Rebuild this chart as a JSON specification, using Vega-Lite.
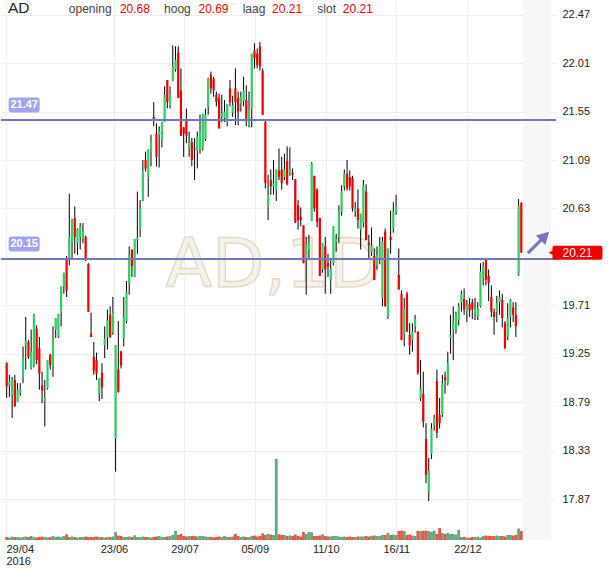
{
"$schema": "https://vega.github.io/schema/vega-lite/v6.json",
"width": 555, "height": 540, "padding": 0,
"autosize": {"type": "pad"},
"background": "white",
"config": {"font": "Liberation Sans", "view": {"stroke": null}},
"datasets": {
"levels": [{"price": 21.47}, {"price": 20.15}],
"ohlc": [
{"i":1,"o":19.16,"h":19.17,"l":18.83,"c":18.94,"v":1200},
{"i":2,"o":18.95,"h":19.05,"l":18.84,"c":18.99,"v":1000},
{"i":3,"o":18.86,"h":19.03,"l":18.64,"c":19.00,"v":1400},
{"i":4,"o":19.00,"h":19.05,"l":18.75,"c":18.75,"v":1200},
{"i":5,"o":18.79,"h":18.97,"l":18.79,"c":18.91,"v":1200},
{"i":6,"o":18.88,"h":18.97,"l":18.85,"c":18.92,"v":1000},
{"i":7,"o":19.03,"h":19.32,"l":18.97,"c":19.21,"v":1200},
{"i":8,"o":19.33,"h":19.60,"l":19.10,"c":19.37,"v":1400},
{"i":9,"o":19.36,"h":19.38,"l":19.20,"c":19.22,"v":1200},
{"i":10,"o":19.11,"h":19.48,"l":19.10,"c":19.27,"v":1600},
{"i":11,"o":19.14,"h":19.63,"l":19.12,"c":19.62,"v":1200},
{"i":12,"o":19.49,"h":19.52,"l":19.15,"c":19.19,"v":1000},
{"i":13,"o":19.30,"h":19.41,"l":18.91,"c":19.06,"v":1200},
{"i":14,"o":18.95,"h":19.08,"l":18.78,"c":18.90,"v":1400},
{"i":15,"o":18.80,"h":19.00,"l":18.56,"c":18.83,"v":1200},
{"i":16,"o":18.92,"h":19.19,"l":18.91,"c":19.19,"v":1000},
{"i":17,"o":19.24,"h":19.25,"l":19.10,"c":19.14,"v":1200},
{"i":18,"o":19.13,"h":19.51,"l":19.03,"c":19.39,"v":1600},
{"i":19,"o":19.48,"h":19.59,"l":19.40,"c":19.59,"v":1200},
{"i":20,"o":19.41,"h":19.63,"l":19.40,"c":19.63,"v":1400},
{"i":21,"o":19.65,"h":19.89,"l":19.51,"c":19.89,"v":1200},
{"i":22,"o":19.89,"h":20.02,"l":19.82,"c":20.02,"v":1600},
{"i":23,"o":20.15,"h":20.18,"l":19.79,"c":19.85,"v":2280},
{"i":24,"o":20.16,"h":20.77,"l":20.09,"c":20.36,"v":1200},
{"i":25,"o":20.31,"h":20.53,"l":20.16,"c":20.52,"v":1400},
{"i":26,"o":20.54,"h":20.65,"l":20.20,"c":20.36,"v":1200},
{"i":27,"o":20.30,"h":20.44,"l":20.19,"c":20.43,"v":1000},
{"i":28,"o":20.36,"h":20.49,"l":20.24,"c":20.46,"v":1200},
{"i":29,"o":20.34,"h":20.49,"l":20.30,"c":20.41,"v":1200},
{"i":30,"o":20.36,"h":20.37,"l":20.13,"c":20.14,"v":1400},
{"i":31,"o":20.10,"h":20.11,"l":19.65,"c":19.65,"v":1200},
{"i":32,"o":19.44,"h":19.64,"l":19.41,"c":19.41,"v":1200},
{"i":33,"o":19.22,"h":19.36,"l":19.05,"c":19.09,"v":1200},
{"i":34,"o":19.19,"h":19.26,"l":19.00,"c":19.06,"v":1400},
{"i":35,"o":18.87,"h":19.02,"l":18.80,"c":19.02,"v":1200},
{"i":36,"o":19.07,"h":19.16,"l":18.82,"c":18.93,"v":1200},
{"i":37,"o":19.33,"h":19.51,"l":19.21,"c":19.39,"v":1000},
{"i":38,"o":19.41,"h":19.67,"l":19.29,"c":19.57,"v":1200},
{"i":39,"o":19.62,"h":19.70,"l":19.40,"c":19.41,"v":1200},
{"i":40,"o":19.45,"h":19.79,"l":19.43,"c":19.64,"v":1400},
{"i":41,"o":18.45,"h":19.33,"l":18.13,"c":19.33,"v":3200},
{"i":42,"o":19.10,"h":19.56,"l":18.88,"c":18.89,"v":1800},
{"i":43,"o":19.27,"h":19.28,"l":19.11,"c":19.14,"v":1600},
{"i":44,"o":19.40,"h":19.79,"l":19.32,"c":19.60,"v":1200},
{"i":45,"o":19.56,"h":19.94,"l":19.54,"c":19.84,"v":1200},
{"i":46,"o":19.92,"h":20.27,"l":19.81,"c":20.19,"v":1400},
{"i":47,"o":20.24,"h":20.24,"l":19.98,"c":20.08,"v":1200},
{"i":48,"o":19.98,"h":20.34,"l":19.98,"c":20.34,"v":1880},
{"i":49,"o":20.33,"h":20.79,"l":20.20,"c":20.35,"v":1200},
{"i":50,"o":20.43,"h":20.71,"l":20.36,"c":20.63,"v":1200},
{"i":51,"o":20.71,"h":21.09,"l":20.70,"c":20.99,"v":1400},
{"i":52,"o":21.09,"h":21.17,"l":20.98,"c":21.01,"v":1200},
{"i":53,"o":20.93,"h":21.19,"l":20.74,"c":21.19,"v":1200},
{"i":54,"o":21.17,"h":21.33,"l":21.03,"c":21.27,"v":1000},
{"i":55,"o":21.50,"h":21.64,"l":21.41,"c":21.48,"v":1200},
{"i":56,"o":21.34,"h":21.44,"l":21.03,"c":21.12,"v":1400},
{"i":57,"o":21.33,"h":21.41,"l":21.02,"c":21.36,"v":1600},
{"i":58,"o":21.28,"h":21.45,"l":21.21,"c":21.45,"v":1200},
{"i":59,"o":21.45,"h":21.79,"l":21.45,"c":21.71,"v":1200},
{"i":60,"o":21.85,"h":21.85,"l":21.58,"c":21.64,"v":1400},
{"i":61,"o":21.61,"h":21.79,"l":21.58,"c":21.71,"v":1600},
{"i":62,"o":21.84,"h":22.18,"l":21.84,"c":21.98,"v":2000},
{"i":63,"o":21.95,"h":22.17,"l":21.93,"c":22.04,"v":3600},
{"i":64,"o":22.11,"h":22.17,"l":21.68,"c":21.68,"v":2000},
{"i":65,"o":21.75,"h":21.96,"l":21.32,"c":21.32,"v":2400},
{"i":66,"o":21.40,"h":21.40,"l":21.12,"c":21.34,"v":1600},
{"i":67,"o":21.47,"h":21.58,"l":21.25,"c":21.32,"v":1400},
{"i":68,"o":21.20,"h":21.36,"l":21.12,"c":21.26,"v":1600},
{"i":69,"o":21.26,"h":21.30,"l":21.03,"c":21.09,"v":1600},
{"i":70,"o":21.20,"h":21.30,"l":20.90,"c":21.19,"v":1600},
{"i":71,"o":21.18,"h":21.36,"l":21.01,"c":21.31,"v":1400},
{"i":72,"o":21.19,"h":21.52,"l":21.15,"c":21.36,"v":1600},
{"i":73,"o":21.20,"h":21.53,"l":21.18,"c":21.53,"v":1600},
{"i":74,"o":21.29,"h":21.58,"l":21.27,"c":21.52,"v":1400},
{"i":75,"o":21.60,"h":21.87,"l":21.52,"c":21.87,"v":1200},
{"i":76,"o":21.90,"h":21.93,"l":21.72,"c":21.77,"v":1200},
{"i":77,"o":21.86,"h":21.88,"l":21.69,"c":21.75,"v":1000},
{"i":78,"o":21.71,"h":21.74,"l":21.60,"c":21.64,"v":1200},
{"i":79,"o":21.68,"h":21.72,"l":21.39,"c":21.39,"v":1400},
{"i":80,"o":21.50,"h":21.71,"l":21.45,"c":21.53,"v":1200},
{"i":81,"o":21.49,"h":21.66,"l":21.45,"c":21.55,"v":1600},
{"i":82,"o":21.45,"h":21.62,"l":21.41,"c":21.62,"v":1200},
{"i":83,"o":21.77,"h":21.85,"l":21.60,"c":21.64,"v":1200},
{"i":84,"o":21.54,"h":21.70,"l":21.50,"c":21.61,"v":1400},
{"i":85,"o":21.77,"h":21.96,"l":21.42,"c":21.64,"v":2400},
{"i":86,"o":21.68,"h":21.74,"l":21.42,"c":21.55,"v":1600},
{"i":87,"o":21.63,"h":21.74,"l":21.55,"c":21.69,"v":1200},
{"i":88,"o":21.65,"h":21.88,"l":21.60,"c":21.75,"v":1400},
{"i":89,"o":21.66,"h":21.80,"l":21.41,"c":21.47,"v":1200},
{"i":90,"o":21.42,"h":21.74,"l":21.40,"c":21.56,"v":1200},
{"i":91,"o":21.58,"h":22.10,"l":21.40,"c":22.10,"v":1600},
{"i":92,"o":22.13,"h":22.20,"l":21.96,"c":22.06,"v":1800},
{"i":93,"o":22.10,"h":22.15,"l":21.96,"c":21.99,"v":1400},
{"i":94,"o":22.17,"h":22.21,"l":21.94,"c":21.98,"v":1600},
{"i":95,"o":21.94,"h":21.96,"l":21.52,"c":21.52,"v":2680},
{"i":96,"o":21.45,"h":21.46,"l":20.82,"c":20.87,"v":2000},
{"i":97,"o":20.65,"h":20.95,"l":20.52,"c":20.76,"v":2400},
{"i":98,"o":20.90,"h":21.00,"l":20.76,"c":20.84,"v":2200},
{"i":99,"o":20.84,"h":21.09,"l":20.76,"c":20.87,"v":2000},
{"i":100,"o":20.81,"h":21.00,"l":20.70,"c":21.00,"v":32400},
{"i":101,"o":20.99,"h":21.20,"l":20.90,"c":20.93,"v":2280},
{"i":102,"o":21.00,"h":21.12,"l":20.81,"c":20.87,"v":2000},
{"i":103,"o":20.93,"h":21.15,"l":20.90,"c":21.00,"v":2000},
{"i":104,"o":21.08,"h":21.22,"l":20.85,"c":20.86,"v":1600},
{"i":105,"o":20.96,"h":21.21,"l":20.94,"c":21.00,"v":1800},
{"i":106,"o":20.97,"h":21.01,"l":20.90,"c":20.95,"v":1600},
{"i":107,"o":20.91,"h":20.91,"l":20.49,"c":20.50,"v":2200},
{"i":108,"o":20.66,"h":20.71,"l":20.43,"c":20.52,"v":1600},
{"i":109,"o":20.55,"h":20.64,"l":20.46,"c":20.52,"v":1400},
{"i":110,"o":20.47,"h":20.47,"l":20.11,"c":20.11,"v":3200},
{"i":111,"o":20.14,"h":20.36,"l":19.81,"c":20.29,"v":2400},
{"i":112,"o":20.24,"h":20.38,"l":20.14,"c":20.30,"v":3200},
{"i":113,"o":20.51,"h":21.07,"l":20.51,"c":21.06,"v":3080},
{"i":114,"o":20.94,"h":20.94,"l":20.60,"c":20.63,"v":1600},
{"i":115,"o":20.81,"h":20.82,"l":20.45,"c":20.50,"v":1600},
{"i":116,"o":20.54,"h":20.54,"l":19.99,"c":19.99,"v":1800},
{"i":117,"o":20.05,"h":20.30,"l":20.02,"c":20.30,"v":2280},
{"i":118,"o":20.27,"h":20.36,"l":19.82,"c":20.05,"v":1600},
{"i":119,"o":20.11,"h":20.20,"l":19.98,"c":20.08,"v":1400},
{"i":120,"o":19.95,"h":20.14,"l":19.82,"c":20.06,"v":1400},
{"i":121,"o":20.11,"h":20.46,"l":20.09,"c":20.46,"v":1600},
{"i":122,"o":20.31,"h":20.39,"l":20.22,"c":20.34,"v":1600},
{"i":123,"o":20.36,"h":20.66,"l":20.30,"c":20.60,"v":1400},
{"i":124,"o":20.60,"h":20.85,"l":20.56,"c":20.79,"v":1200},
{"i":125,"o":20.84,"h":21.00,"l":20.80,"c":20.96,"v":1400},
{"i":126,"o":20.96,"h":21.09,"l":20.80,"c":20.82,"v":1200},
{"i":127,"o":20.93,"h":20.99,"l":20.80,"c":20.84,"v":1400},
{"i":128,"o":20.92,"h":20.94,"l":20.60,"c":20.63,"v":1200},
{"i":129,"o":20.60,"h":20.69,"l":20.55,"c":20.63,"v":1200},
{"i":130,"o":20.63,"h":20.81,"l":20.44,"c":20.52,"v":1400},
{"i":131,"o":20.43,"h":20.58,"l":20.24,"c":20.58,"v":1400},
{"i":132,"o":20.49,"h":20.90,"l":20.45,"c":20.85,"v":1400},
{"i":133,"o":20.79,"h":20.86,"l":20.33,"c":20.33,"v":1600},
{"i":134,"o":20.30,"h":20.38,"l":20.16,"c":20.28,"v":1400},
{"i":135,"o":20.22,"h":20.45,"l":20.18,"c":20.28,"v":1600},
{"i":136,"o":20.18,"h":20.25,"l":19.95,"c":19.95,"v":1800},
{"i":137,"o":20.09,"h":20.27,"l":20.05,"c":20.19,"v":1600},
{"i":138,"o":20.16,"h":20.36,"l":20.10,"c":20.27,"v":1600},
{"i":139,"o":19.78,"h":20.36,"l":19.70,"c":20.32,"v":2000},
{"i":140,"o":20.41,"h":20.44,"l":19.70,"c":19.70,"v":2000},
{"i":141,"o":19.60,"h":20.25,"l":19.58,"c":20.25,"v":2920},
{"i":142,"o":20.36,"h":20.61,"l":20.20,"c":20.33,"v":2000},
{"i":143,"o":20.44,"h":20.69,"l":20.40,"c":20.60,"v":2200},
{"i":144,"o":20.60,"h":20.76,"l":20.57,"c":20.65,"v":2000},
{"i":145,"o":20.00,"h":20.25,"l":19.86,"c":19.86,"v":3600},
{"i":146,"o":19.82,"h":19.85,"l":19.38,"c":19.38,"v":3800},
{"i":147,"o":19.44,"h":19.78,"l":19.32,"c":19.68,"v":3600},
{"i":148,"o":19.82,"h":19.84,"l":19.46,"c":19.46,"v":2000},
{"i":149,"o":19.43,"h":19.54,"l":19.24,"c":19.33,"v":2200},
{"i":150,"o":19.38,"h":19.54,"l":19.27,"c":19.46,"v":1800},
{"i":151,"o":19.51,"h":19.62,"l":19.45,"c":19.58,"v":1600},
{"i":152,"o":19.46,"h":19.46,"l":19.05,"c":19.07,"v":3720},
{"i":153,"o":18.83,"h":19.19,"l":18.80,"c":18.92,"v":3600},
{"i":154,"o":18.87,"h":19.08,"l":18.55,"c":18.60,"v":3720},
{"i":155,"o":18.44,"h":18.59,"l":18.02,"c":18.10,"v":3720},
{"i":156,"o":17.93,"h":18.26,"l":17.85,"c":18.14,"v":3600},
{"i":157,"o":18.30,"h":18.59,"l":18.25,"c":18.54,"v":3200},
{"i":158,"o":18.57,"h":18.67,"l":18.52,"c":18.64,"v":3720},
{"i":159,"o":18.99,"h":19.10,"l":18.45,"c":18.50,"v":2400},
{"i":160,"o":18.67,"h":18.83,"l":18.54,"c":18.59,"v":4800},
{"i":161,"o":18.67,"h":19.05,"l":18.65,"c":18.97,"v":2800},
{"i":162,"o":19.03,"h":19.08,"l":18.87,"c":19.00,"v":2400},
{"i":163,"o":18.97,"h":19.27,"l":18.95,"c":19.16,"v":2800},
{"i":164,"o":19.40,"h":19.62,"l":19.25,"c":19.43,"v":2400},
{"i":165,"o":19.48,"h":19.70,"l":19.19,"c":19.55,"v":2400},
{"i":166,"o":19.48,"h":19.65,"l":19.44,"c":19.62,"v":2200},
{"i":167,"o":19.57,"h":19.73,"l":19.52,"c":19.70,"v":4000},
{"i":168,"o":19.74,"h":19.85,"l":19.65,"c":19.82,"v":1200},
{"i":169,"o":19.77,"h":19.87,"l":19.62,"c":19.67,"v":1200},
{"i":170,"o":19.65,"h":19.76,"l":19.55,"c":19.71,"v":1000},
{"i":171,"o":19.72,"h":19.78,"l":19.60,"c":19.66,"v":800},
{"i":172,"o":19.74,"h":19.77,"l":19.58,"c":19.67,"v":1200},
{"i":173,"o":19.64,"h":19.78,"l":19.57,"c":19.68,"v":1200},
{"i":174,"o":19.60,"h":19.74,"l":19.57,"c":19.68,"v":1320},
{"i":175,"o":19.70,"h":20.11,"l":19.69,"c":20.03,"v":1000},
{"i":176,"o":19.97,"h":20.12,"l":19.90,"c":20.08,"v":1600},
{"i":177,"o":20.15,"h":20.16,"l":19.90,"c":19.95,"v":1800},
{"i":178,"o":19.99,"h":20.05,"l":19.75,"c":19.92,"v":1600},
{"i":179,"o":19.79,"h":19.90,"l":19.60,"c":19.65,"v":1600},
{"i":180,"o":19.65,"h":19.68,"l":19.43,"c":19.60,"v":1600},
{"i":181,"o":19.65,"h":19.80,"l":19.55,"c":19.73,"v":1800},
{"i":182,"o":19.74,"h":19.85,"l":19.62,"c":19.79,"v":1600},
{"i":183,"o":19.76,"h":19.82,"l":19.50,"c":19.59,"v":1600},
{"i":184,"o":19.54,"h":19.56,"l":19.30,"c":19.30,"v":1400},
{"i":185,"o":19.41,"h":19.73,"l":19.38,"c":19.59,"v":2000},
{"i":186,"o":19.60,"h":19.77,"l":19.50,"c":19.76,"v":2000},
{"i":187,"o":19.69,"h":19.74,"l":19.55,"c":19.62,"v":1800},
{"i":188,"o":19.62,"h":19.74,"l":19.41,"c":19.51,"v":2000},
{"i":189,"o":20.00,"h":20.72,"l":19.99,"c":20.66,"v":4600},
{"i":190,"o":20.68,"h":20.69,"l":20.21,"c":20.21,"v":3600}
]
},
"data": {"name": "ohlc"},
"layer": [
{
"mark": {"type": "bar", "width": 2.8, "orient": "vertical"},
"encoding": {
"x": {"field": "i", "type": "quantitative", "scale": {"domain": [0.75, 200.9], "nice": false, "zero": false},
"axis": {"orient": "bottom", "values": [0.75, 40.4, 66.3, 92.1, 118.2, 144.1, 170.2], "labelExpr": "datum.value < 1 ? ['29/04','2016'] : datum.value < 50 ? '23/06' : datum.value < 80 ? '29/07' : datum.value < 100 ? '05/09' : datum.value < 130 ? '11/10' : datum.value < 160 ? '16/11' : '22/12'", "labelAlign": {"condition": {"test": "datum.value < 1", "value": "left"}, "value": "center"}, "labelPadding": 3, "labelFontSize": 11, "labelColor": "#222222", "labelLineHeight": 12, "domain": false, "ticks": false, "grid": true, "gridColor": "#eeeeee", "gridWidth": 1, "title": null, "labelOverlap": false, "labelBound": false}},
"y": {"field": "v", "type": "quantitative", "scale": {"domain": [0, 216000], "nice": false}, "axis": null},
"color": {"condition": {"test": "datum.c >= datum.o", "value": "#6aa583"}, "value": "#e05a44"}
}
},
{
"layer": [
{
"data": {"values": [{}]},
"mark": {"type": "rect", "color": "#f7f7f7"},
"encoding": {
"x": {"datum": 190.7, "type": "quantitative", "scale": {"domain": [0.75, 200.9], "nice": false, "zero": false}},
"x2": {"datum": 200.9},
"y": {"datum": 17.481, "type": "quantitative", "scale": {"domain": [17.481, 22.61], "nice": false, "zero": false}},
"y2": {"datum": 22.61}
}
},
{
"data": {"values": [{}]},
"mark": {"type": "text", "align": "center", "baseline": "alphabetic", "font": "DejaVu Sans", "fontSize": 68, "fill": "#f5f2eb", "stroke": "#e3dac6", "strokeWidth": 1.5},
"encoding": {
"x": {"datum": 99.02, "type": "quantitative", "scale": {"domain": [0.75, 200.9], "nice": false, "zero": false}},
"y": {"datum": 19.887, "type": "quantitative", "scale": {"domain": [17.481, 22.61], "nice": false, "zero": false}},
"text": {"value": "AD,1D"}
}
},
{
"mark": {"type": "rule", "color": "#000000", "strokeWidth": 1},
"encoding": {
"x": {"field": "i", "type": "quantitative", "scale": {"domain": [0.75, 200.9], "nice": false, "zero": false}},
"y": {"field": "l", "type": "quantitative", "scale": {"domain": [17.481, 22.61], "nice": false, "zero": false},
"axis": {"orient": "right", "values": [17.87, 18.33, 18.79, 19.25, 19.71, 20.63, 21.09, 21.55, 22.01, 22.47], "format": ".2f", "labelFontSize": 11, "labelColor": "#222222", "labelPadding": 6, "domain": false, "ticks": false, "grid": true, "gridColor": "#eeeeee", "gridWidth": 1, "title": null}},
"y2": {"field": "h"}
}
},
{
"mark": {"type": "bar", "width": 2.2, "orient": "vertical"},
"encoding": {
"x": {"field": "i", "type": "quantitative", "scale": {"domain": [0.75, 200.9], "nice": false, "zero": false}},
"y": {"field": "o", "type": "quantitative", "scale": {"domain": [17.481, 22.61], "nice": false, "zero": false}},
"y2": {"field": "c"},
"color": {"condition": {"test": "datum.c >= datum.o", "value": "#33cc66"}, "value": "#f00000"}
}
},
{
"data": {"name": "levels"},
"mark": {"type": "rule", "color": "#7676bd", "strokeWidth": 2},
"encoding": {
"y": {"field": "price", "type": "quantitative", "scale": {"domain": [17.481, 22.61], "nice": false, "zero": false}}
}
},
{
"data": {"name": "levels"},
"mark": {"type": "point", "shape": "M-0.81,-0.48 L0.81,-0.48 Q1,-0.48 1,-0.29 L1,0.29 Q1,0.48 0.81,0.48 L-0.81,0.48 Q-1,0.48 -1,0.29 L-1,-0.29 Q-1,-0.48 -0.81,-0.48 Z", "filled": true, "size": 961, "color": "#a2a2f2", "opacity": 1, "yOffset": -15},
"encoding": {
"x": {"datum": 7.42, "type": "quantitative", "scale": {"domain": [0.75, 200.9], "nice": false, "zero": false}},
"y": {"field": "price", "type": "quantitative", "scale": {"domain": [17.481, 22.61], "nice": false, "zero": false}}
}
},
{
"data": {"name": "levels"},
"mark": {"type": "text", "align": "center", "baseline": "middle", "fontSize": 11, "fontWeight": "bold", "color": "#ffffff", "yOffset": -15},
"encoding": {
"x": {"datum": 7.42, "type": "quantitative", "scale": {"domain": [0.75, 200.9], "nice": false, "zero": false}},
"y": {"field": "price", "type": "quantitative", "scale": {"domain": [17.481, 22.61], "nice": false, "zero": false}},
"text": {"field": "price", "type": "quantitative", "format": ".2f"}
}
},
{
"data": {"values": [{}]},
"mark": {"type": "text", "align": "left", "baseline": "alphabetic", "fontSize": 15.5, "color": "#222222"},
"encoding": {
"x": {"datum": 1.47, "type": "quantitative", "scale": {"domain": [0.75, 200.9], "nice": false, "zero": false}},
"y": {"datum": 22.489, "type": "quantitative", "scale": {"domain": [17.481, 22.61], "nice": false, "zero": false}},
"text": {"value": "AD"}
}
},
{
"data": {"values": [{}]},
"mark": {"type": "text", "align": "left", "baseline": "alphabetic", "fontSize": 12, "color": "#444444"},
"encoding": {
"x": {"datum": 23.83, "type": "quantitative", "scale": {"domain": [0.75, 200.9], "nice": false, "zero": false}},
"y": {"datum": 22.489, "type": "quantitative", "scale": {"domain": [17.481, 22.61], "nice": false, "zero": false}},
"text": {"value": "opening"}
}
},
{
"data": {"values": [{}]},
"mark": {"type": "text", "align": "left", "baseline": "alphabetic", "fontSize": 12, "color": "#444444"},
"encoding": {
"x": {"datum": 58.81, "type": "quantitative", "scale": {"domain": [0.75, 200.9], "nice": false, "zero": false}},
"y": {"datum": 22.489, "type": "quantitative", "scale": {"domain": [17.481, 22.61], "nice": false, "zero": false}},
"text": {"value": "hoog"}
}
},
{
"data": {"values": [{}]},
"mark": {"type": "text", "align": "left", "baseline": "alphabetic", "fontSize": 12, "color": "#444444"},
"encoding": {
"x": {"datum": 87.66, "type": "quantitative", "scale": {"domain": [0.75, 200.9], "nice": false, "zero": false}},
"y": {"datum": 22.489, "type": "quantitative", "scale": {"domain": [17.481, 22.61], "nice": false, "zero": false}},
"text": {"value": "laag"}
}
},
{
"data": {"values": [{}]},
"mark": {"type": "text", "align": "left", "baseline": "alphabetic", "fontSize": 12, "color": "#444444"},
"encoding": {
"x": {"datum": 115.07, "type": "quantitative", "scale": {"domain": [0.75, 200.9], "nice": false, "zero": false}},
"y": {"datum": 22.489, "type": "quantitative", "scale": {"domain": [17.481, 22.61], "nice": false, "zero": false}},
"text": {"value": "slot"}
}
},
{
"transform": [{"filter": "datum.i == 190"}],
"mark": {"type": "text", "align": "left", "baseline": "alphabetic", "fontSize": 12, "color": "#f00000"},
"encoding": {
"x": {"datum": 42.58, "type": "quantitative", "scale": {"domain": [0.75, 200.9], "nice": false, "zero": false}},
"y": {"datum": 22.489, "type": "quantitative", "scale": {"domain": [17.481, 22.61], "nice": false, "zero": false}},
"text": {"field": "o", "type": "quantitative", "format": ".2f"}
}
},
{
"transform": [{"filter": "datum.i == 190"}],
"mark": {"type": "text", "align": "left", "baseline": "alphabetic", "fontSize": 12, "color": "#f00000"},
"encoding": {
"x": {"datum": 71.43, "type": "quantitative", "scale": {"domain": [0.75, 200.9], "nice": false, "zero": false}},
"y": {"datum": 22.489, "type": "quantitative", "scale": {"domain": [17.481, 22.61], "nice": false, "zero": false}},
"text": {"field": "h", "type": "quantitative", "format": ".2f"}
}
},
{
"transform": [{"filter": "datum.i == 190"}],
"mark": {"type": "text", "align": "left", "baseline": "alphabetic", "fontSize": 12, "color": "#f00000"},
"encoding": {
"x": {"datum": 98.48, "type": "quantitative", "scale": {"domain": [0.75, 200.9], "nice": false, "zero": false}},
"y": {"datum": 22.489, "type": "quantitative", "scale": {"domain": [17.481, 22.61], "nice": false, "zero": false}},
"text": {"field": "l", "type": "quantitative", "format": ".2f"}
}
},
{
"transform": [{"filter": "datum.i == 190"}],
"mark": {"type": "text", "align": "left", "baseline": "alphabetic", "fontSize": 12, "color": "#f00000"},
"encoding": {
"x": {"datum": 124.44, "type": "quantitative", "scale": {"domain": [0.75, 200.9], "nice": false, "zero": false}},
"y": {"datum": 22.489, "type": "quantitative", "scale": {"domain": [17.481, 22.61], "nice": false, "zero": false}},
"text": {"field": "c", "type": "quantitative", "format": ".2f"}
}
},
{
"data": {"values": [{}]},
"mark": {"type": "point", "shape": "M-1,-0.1 L0.2,-0.1 L0.2,-0.45 L1,0 L0.2,0.45 L0.2,0.1 L-1,0.1 Z", "filled": true, "size": 900, "angle": 315, "color": "#6e6ec0", "opacity": 0.95},
"encoding": {
"x": {"datum": 196.3, "type": "quantitative", "scale": {"domain": [0.75, 200.9], "nice": false, "zero": false}},
"y": {"datum": 20.307, "type": "quantitative", "scale": {"domain": [17.481, 22.61], "nice": false, "zero": false}}
}
},
{
"transform": [{"filter": "datum.i == 190"}],
"mark": {"type": "point", "shape": "M-0.92,-0.28 L0.92,-0.28 Q1,-0.28 1,-0.2 L1,0.2 Q1,0.28 0.92,0.28 L-0.92,0.28 Q-1,0.28 -1,0.2 L-1,0.08 L-1.16,0 L-1,-0.08 L-1,-0.2 Q-1,-0.28 -0.92,-0.28 Z", "filled": true, "size": 2500, "color": "#f00000", "opacity": 1},
"encoding": {
"x": {"datum": 210.63, "type": "quantitative", "scale": {"domain": [0.75, 200.9], "nice": false, "zero": false}},
"y": {"field": "c", "type": "quantitative", "scale": {"domain": [17.481, 22.61], "nice": false, "zero": false}}
}
},
{
"transform": [{"filter": "datum.i == 190"}],
"mark": {"type": "text", "align": "center", "baseline": "middle", "fontSize": 12, "color": "#ffffff"},
"encoding": {
"x": {"datum": 210.63, "type": "quantitative", "scale": {"domain": [0.75, 200.9], "nice": false, "zero": false}},
"y": {"field": "c", "type": "quantitative", "scale": {"domain": [17.481, 22.61], "nice": false, "zero": false}},
"text": {"field": "c", "type": "quantitative", "format": ".2f"}
}
}
]
}
],
"resolve": {"scale": {"y": "independent"}}
}
